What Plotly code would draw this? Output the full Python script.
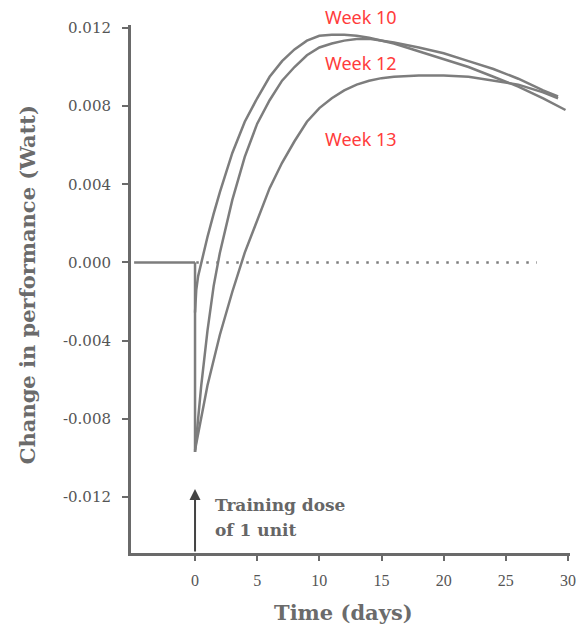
import plotly.graph_objects as go

# ---------------- data ----------------
baseline_days = [-4.9, 0]
baseline_values = [0.0, 0.0]

drop_days = [0, 0]
drop_values = [0.0, -0.0097]

zero_days = [0.1, 27.5]
zero_values = [0.0, 0.0]

days_w10 = [0, 0.1, 0.25, 0.5, 1, 1.5, 2, 3, 4, 5, 6, 7, 8, 9, 10, 11, 12, 13, 14,
            16, 18, 20, 22, 24, 26, 28, 29.8]
vals_w10 = [-0.00256, -0.0014, -0.0007, 0.0, 0.0013, 0.0025, 0.0036, 0.0056, 0.0072,
            0.0084, 0.0095, 0.0103, 0.0109, 0.01135, 0.0116, 0.01165, 0.01165, 0.0116,
            0.0115, 0.0112, 0.0108, 0.0104, 0.0100, 0.0095, 0.0090, 0.0084, 0.0078]

days_w12 = [0, 0.25, 0.5, 1, 1.5, 2, 2.5, 3, 4, 5, 6, 7, 8, 9, 10, 11, 12, 13, 14,
            16, 18, 20, 22, 24, 26, 28, 29.2]
vals_w12 = [-0.0097, -0.0079, -0.0063, -0.0035, -0.0012, 0.0005, 0.0019, 0.0032,
            0.0054, 0.0071, 0.0083, 0.0093, 0.0100, 0.0106, 0.0110, 0.0112, 0.01135,
            0.01143, 0.01144, 0.01125, 0.0110, 0.0107, 0.0103, 0.0099, 0.0094, 0.0088,
            0.0085]

days_w13 = [0, 0.5, 1, 2, 3, 4, 5, 6, 7, 8, 9, 10, 11, 12, 13, 14, 15, 16, 18, 20,
            22, 24, 26, 28, 29.2]
vals_w13 = [-0.0096, -0.0079, -0.0063, -0.0037, -0.0015, 0.0005, 0.00215, 0.0038,
            0.0051, 0.0062, 0.0072, 0.0079, 0.0084, 0.0088, 0.0091, 0.0093, 0.00943,
            0.0095, 0.00956, 0.00957, 0.0095, 0.0093, 0.0091, 0.0087, 0.0084]

y_tick_vals = [-0.012, -0.008, -0.004, 0.0, 0.004, 0.008, 0.012]
y_tick_text = ["-0.012", "-0.008", "-0.004", "0.000", "0.004", "0.008", "0.012"]
x_tick_vals = [0, 5, 10, 15, 20, 25, 30]
x_tick_text = ["0", "5", "10", "15", "20", "25", "30"]

week_labels = ["Week 10", "Week 12", "Week 13"]
week_label_x = [10.3, 10.3, 10.3]
week_label_y = [0.01258, 0.01018, 0.00634]

dose_lines = ["Training dose", "of 1 unit"]
dose_x = [1.45, 1.45]
dose_y = [-0.01243, -0.01371]
arrow_x = 0
arrow_tail_y = -0.01487
arrow_head_y = -0.0116

# ---------------- figure ----------------
LINE = "#7d7d7d"
AXIS = "#6a6a6a"
Y_RANGE = [-0.01487, 0.01215]
fig = go.Figure()

def add_line(x, y, dash="solid", width=2.5):
    fig.add_trace(go.Scatter(x=x, y=y, mode="lines",
                             line=dict(color=LINE, width=width, dash=dash),
                             hoverinfo="skip", showlegend=False))

add_line(baseline_days, baseline_values)
add_line(drop_days, drop_values)
add_line(zero_days, zero_values, dash="2.5px,7.5px")
add_line(days_w10, vals_w10)
add_line(days_w12, vals_w12)
add_line(days_w13, vals_w13)

def to_paper_y(v):
    return (v - Y_RANGE[0]) / (Y_RANGE[1] - Y_RANGE[0])

annotations = []
for txt, x, y in zip(week_labels, week_label_x, week_label_y):
    annotations.append(dict(x=x, y=to_paper_y(y), xref="x", yref="paper", text=txt,
                            showarrow=False, xanchor="left", yanchor="middle",
                            font=dict(family="Noto Sans", size=18, color="#ff3b3b")))
for txt, x, y in zip(dose_lines, dose_x, dose_y):
    annotations.append(dict(x=x, y=y, xref="x", yref="y", text="<b>" + txt + "</b>",
                            showarrow=False, xanchor="left", yanchor="middle",
                            font=dict(family="DejaVu Serif", size=17, color="#666666")))
annotations.append(dict(x=arrow_x, y=arrow_head_y, ax=arrow_x, ay=arrow_tail_y,
                        xref="x", yref="y", axref="x", ayref="y", text="",
                        showarrow=True, arrowhead=2, arrowsize=1.1, arrowwidth=2,
                        arrowcolor="#444444"))
annotations.append(dict(x=-0.237, y=0.509, xref="paper", yref="paper",
                        text="<b>Change in performance (Watt)</b>", textangle=-90,
                        showarrow=False, xanchor="center", yanchor="middle",
                        font=dict(family="DejaVu Serif", size=21, color="#6b6b6b")))
annotations.append(dict(x=0.483, y=-0.112, xref="paper", yref="paper",
                        text="<b>Time (days)</b>", showarrow=False,
                        xanchor="center", yanchor="middle",
                        font=dict(family="DejaVu Serif", size=21, color="#6b6b6b")))

fig.update_layout(
    width=576, height=630, autosize=False,
    margin=dict(l=131, r=6, t=25, b=77, pad=0, autoexpand=False),
    paper_bgcolor="white", plot_bgcolor="white",
    showlegend=False,
    annotations=annotations,
    xaxis=dict(range=[-5.15, 30.16], showgrid=False, zeroline=False,
               automargin=False,
               showline=True, linecolor=AXIS, linewidth=3,
               ticks="outside", ticklen=5, tickwidth=2, tickcolor=AXIS,
               tickvals=x_tick_vals, ticktext=x_tick_text,
               ticklabelstandoff=6, ticklabeloverflow="allow",
               tickfont=dict(family="Liberation Serif", size=16, color="#555555")),
    yaxis=dict(range=Y_RANGE, showgrid=False, zeroline=False,
               automargin=False,
               showline=True, linecolor=AXIS, linewidth=3,
               ticks="outside", ticklen=6, tickwidth=2, tickcolor=AXIS,
               tickvals=y_tick_vals, ticktext=y_tick_text,
               ticklabelstandoff=8,
               tickfont=dict(family="DejaVu Serif", size=15, color="#555555")),
)

fig.write_html("out.html")
